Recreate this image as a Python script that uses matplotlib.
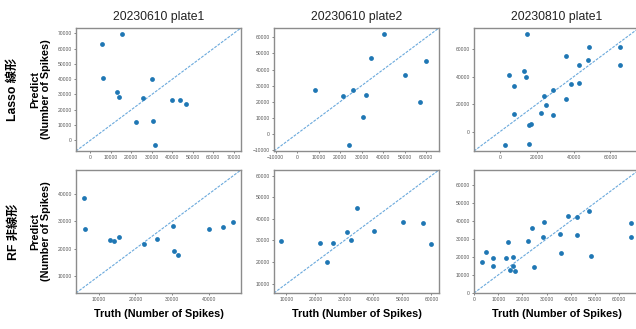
import numpy as np
import matplotlib
matplotlib.use("Agg")
import matplotlib.pyplot as plt
from matplotlib.ticker import MultipleLocator

plt.rcParams['font.family'] = ['Liberation Sans', 'Noto Sans CJK JP', 'DejaVu Sans']

# Values (number of spikes)
titles = ["20230610 plate1", "20230610 plate2", "20230810 plate1"]
row_names = ["Lasso 線形", "RF 非線形"]

truth_p1 = [5900, 6400, 13100, 14200, 15600, 22300, 25900, 30100, 30400, 31500,
            40000, 43800, 46600]
lasso_p1 = [62800, 40600, 31400, 28300, 69800, 12000, 27700, 40300, 12900, -3300,
            26200, 26400, 23500]
rf_p1 = [38400, 27200, 23300, 22700, 24300, 21800, 23400, 28400, 19000, 17700,
         27100, 28000, 29600]

truth_p2 = [8300, 21500, 23900, 26100, 30800, 32200, 34300, 40200, 50300, 57000, 60000]
lasso_p2 = [27000, 23700, -7300, 27000, 10600, 24100, 46900, 62400, 36300, 19500, 45200]
rf_p2 = [29600, 29000, 20200, 28800, 34000, 30400, 44900, 34200, 38700, 37900, 28200]

truth_p3 = [3000, 5000, 7700, 7900, 13000, 14100, 14700, 15900, 16100, 16900,
            22400, 23900, 24900, 28700, 29000, 35800, 36100, 38800, 42700, 42700,
            47700, 48400, 65300, 65300]
lasso_p3 = [-9900, 41600, 33400, 12600, 44300, 39500, 71400, -9000, 4600, 5600,
            13800, 25700, 19400, 12100, 30300, 23500, 55400, 34600, 48200, 35400,
            52100, 61300, 61300, 48700]
rf_p3 = [17200, 22800, 19600, 15200, 19400, 28100, 12600, 20000, 15200, 12200,
         29100, 36300, 14400, 30900, 39600, 32800, 21900, 43000, 42000, 32000,
         45700, 20700, 38900, 31100]

truths = [truth_p1, truth_p2, truth_p3]
preds = [[lasso_p1, lasso_p2, lasso_p3], [rf_p1, rf_p2, rf_p3]]
steps = [[10000, 10000, 20000], [10000, 10000, 10000]]

fig = plt.figure(figsize=(6.36, 3.29), dpi=100)

lefts = [0.1195, 0.4308, 0.7453]
bottoms = [0.541, 0.1094]
w, h = 0.2594, 0.374

for r in range(2):
    for c in range(3):
        ax = fig.add_axes([lefts[c], bottoms[r], w, h])
        x = np.array(truths[c])
        y = np.array(preds[r][c])
        lo = min(x.min(), y.min())
        hi = max(x.max(), y.max())
        pad = 0.05 * (hi - lo)
        lims = [lo - pad, hi + pad]
        ax.scatter(x, y, s=12, color='#1f77b4', zorder=3, linewidths=0)
        ax.plot(lims, lims, linestyle=(0, (2.5, 1.2)), color='#6aa9dc', lw=0.8)
        ax.set_xlim(lims)
        ax.set_ylim(lims)
        ax.xaxis.set_major_locator(MultipleLocator(steps[r][c]))
        ax.yaxis.set_major_locator(MultipleLocator(steps[r][c]))
        ax.tick_params(labelsize=3.6, length=1.5, width=0.5, pad=1.5,
                       colors='#555555')
        for sp in ax.spines.values():
            sp.set_color('#8c8c8c')
            sp.set_linewidth(1.0)
        if r == 0:
            ax.set_title(titles[c], fontsize=8.8, pad=6, color='#222222')
        if r == 1:
            ax.set_xlabel("Truth (Number of Spikes)", fontsize=7.8,
                          fontweight='bold', labelpad=5)

for r in range(2):
    yc = bottoms[r] + h / 2
    fig.text(0.021, yc, row_names[r], rotation=90, fontsize=8.8,
             fontweight='bold', ha='center', va='center')
    fig.text(0.064, yc, "Predict\n(Number of Spikes)", rotation=90,
             fontsize=7.8, fontweight='bold', ha='center', va='center',
             linespacing=1.1)

fig.savefig("out.png", dpi=100)
